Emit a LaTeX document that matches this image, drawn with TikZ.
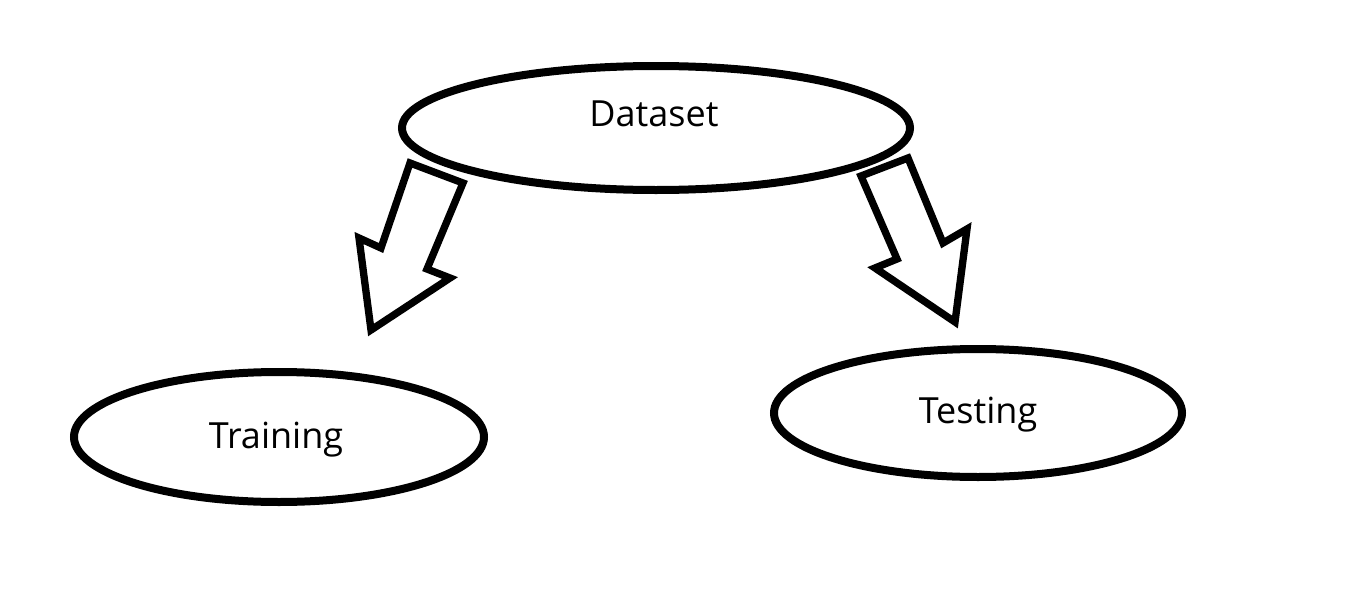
\documentclass[tikz,border=0pt]{standalone}
\usepackage{fontspec}
\setmainfont{Open Sans}
\usetikzlibrary{shapes.geometric}
\begin{document}
\begin{tikzpicture}[x=0.75pt,y=-0.75pt,
  oval/.style={draw,line width=6pt,ellipse,inner sep=0pt,fill=white},
  lbl/.style={font=\fontsize{27}{31}\selectfont},
  blockarrow/.style={draw,line width=5.5pt,line join=miter,fill=white}]
\useasboundingbox (0,0) rectangle (1350,589);
\draw[blockarrow] (410,163) -- (463,183) -- (427,269) -- (450,278) -- (371,330) -- (359,238) -- (381,248) -- cycle;
\draw[blockarrow] (861,176) -- (908,158) -- (943,243) -- (967,229) -- (955,322) -- (875,268) -- (897,259) -- cycle;
\node[oval,minimum width=508*0.75pt,minimum height=124*0.75pt] (ds) at (656,128) {};
\node[lbl] (dst) at (654,114) {Dataset};
\node[oval,minimum width=410*0.75pt,minimum height=130*0.75pt] (tr) at (279,437) {};
\node[lbl] (trt) at (276,440) {Training};
\node[oval,minimum width=408*0.75pt,minimum height=128*0.75pt] (te) at (978,413) {};
\node[lbl] (tet) at (978,415) {Testing};
\end{tikzpicture}
\end{document}
